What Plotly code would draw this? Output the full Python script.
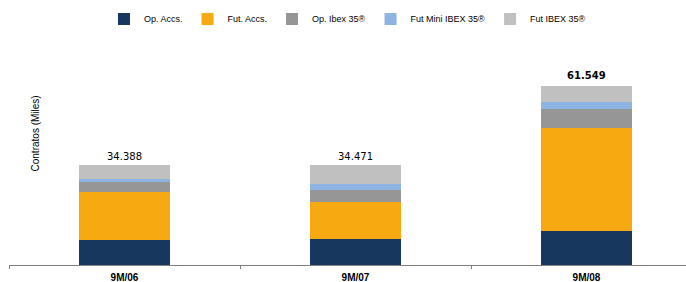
import plotly.graph_objects as go

categories = ["9M/06", "9M/07", "9M/08"]

# Contratos (miles)
op_accs = [8.640, 8.880, 11.760]
fut_accs = [16.360, 12.900, 35.500]
op_ibex = [3.460, 3.910, 6.220]
fut_mini_ibex = [1.040, 2.070, 2.420]
fut_ibex = [4.888, 6.711, 5.649]

series = [
    ("Op. Accs.", op_accs, "#17375E"),
    ("Fut. Accs.", fut_accs, "#F7A912"),
    ("Op. Ibex 35®", op_ibex, "#969696"),
    ("Fut Mini IBEX 35®", fut_mini_ibex, "#8DB4E2"),
    ("Fut IBEX 35®", fut_ibex, "#C0C0C0"),
]

totals = [sum(s[1][i] for s in series) for i in range(len(categories))]

def fmt(v):
    return f"{v:.3f}"

fig = go.Figure()
for name, vals, color in series:
    fig.add_trace(go.Bar(
        x=categories, y=vals, name=name,
        marker=dict(color=color, line=dict(width=0)),
    ))

for i, (c, t) in enumerate(zip(categories, totals)):
    bold = i == len(categories) - 1
    fig.add_annotation(
        x=c, y=t, text=(f"<b>{fmt(t)}</b>" if bold else fmt(t)),
        showarrow=False, yanchor="bottom", yshift=1 if not bold else 3,
        font=dict(family="DejaVu Sans", size=10, color="#000000"),
    )

fig.add_annotation(
    xref="paper", yref="paper", x=0.0384, y=0.502,
    text="Contratos (Miles)", textangle=-90, showarrow=False,
    xanchor="center", yanchor="middle",
    font=dict(family="Liberation Sans, Arial", size=10, color="#000000"),
)

fig.update_layout(
    width=686, height=282,
    margin=dict(l=9, r=0, t=3, b=17),
    barmode="stack", bargap=0.602,
    paper_bgcolor="white", plot_bgcolor="white",
    showlegend=True,
    legend=dict(
        orientation="h", traceorder="normal",
        x=0.1403, xanchor="left", y=0.939, yanchor="middle",
        font=dict(family="Liberation Sans, Arial", size=9, color="#000000"),
        bgcolor="rgba(0,0,0,0)",
    ),
    xaxis=dict(
        range=[-0.5, 2.4307], automargin=False,
        showline=True, linecolor="#808080", linewidth=1,
        ticks="outside", tickson="boundaries", ticklen=3, tickcolor="#808080",
        ticklabelstandoff=3,
        tickfont=dict(family="Liberation Sans, Arial", size=10, color="#000000"),
        tickprefix="<b>", ticksuffix="</b>",
        showgrid=False, zeroline=False, fixedrange=True,
    ),
    yaxis=dict(
        range=[0, 90.1], automargin=False, fixedrange=True,
        showticklabels=False, showgrid=False, zeroline=False, showline=False,
    ),
)

fig.write_html(
    "out.html",
    config={"displayModeBar": False},
    post_script="document.body.style.margin='0';document.body.style.overflow='hidden';",
)
